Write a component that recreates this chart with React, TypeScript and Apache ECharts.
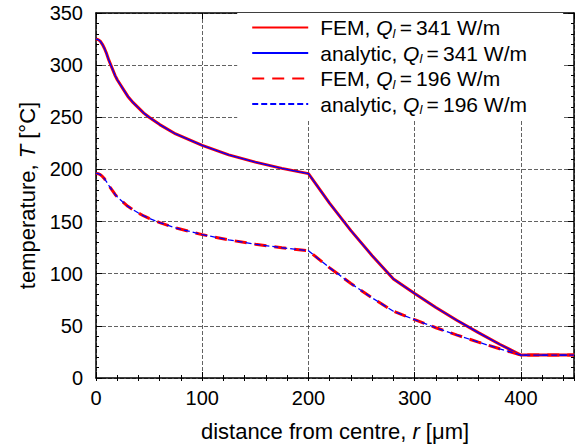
import React, { useEffect, useRef } from 'react';
import * as echarts from 'echarts';

// radial positions [µm]
const radius = [0, 2, 4, 6, 8, 10, 12, 14, 16, 18, 20, 25, 30, 35, 40, 45, 50, 60, 75, 100, 125, 150, 175, 200, 220, 240, 260, 280, 300, 320, 340, 360, 380, 400, 425, 450];

// temperatures [°C], Q_l = 341 W/m
const femHigh = [325, 324.5, 323, 320, 316, 311, 305, 300, 295, 290, 286, 278, 270, 264, 259, 254, 250, 243, 234, 223, 214, 207, 201, 196, 167.4, 141.3, 117.3, 95, 81, 67.6, 55.2, 43.5, 32.4, 22, 22, 22];
const analyticHigh = [325, 324.5, 323, 320, 316, 311, 305, 300, 295, 290, 286, 278, 270, 264, 259, 254, 250, 243, 234, 223, 214, 207, 201, 196, 167.4, 141.3, 117.3, 95, 81, 67.6, 55.2, 43.5, 32.4, 22, 22, 22];

// temperatures [°C], Q_l = 196 W/m
const femLow = [196.2, 195.9, 195, 193.3, 191, 188.1, 184.7, 181.8, 178.9, 176, 173.7, 169.1, 164.6, 161.2, 158.2, 155.4, 153.1, 149, 143.9, 137.5, 132.4, 128.3, 124.9, 122, 105.6, 90.6, 76.8, 64, 55.9, 48.2, 41.1, 34.4, 28, 22, 22, 22];
const analyticLow = [196.2, 195.9, 195, 193.3, 191, 188.1, 184.7, 181.8, 178.9, 176, 173.7, 169.1, 164.6, 161.2, 158.2, 155.4, 153.1, 149, 143.9, 137.5, 132.4, 128.3, 124.9, 122, 105.6, 90.6, 76.8, 64, 55.9, 48.2, 41.1, 34.4, 28, 22, 22, 22];

const seriesNames = ['FEM341', 'analytic341', 'FEM196', 'analytic196'];
const legendLabels: Record<string, string> = {
  FEM341: '{n|FEM, }{q|Q}{s|l}{n|\u2009=\u2009341 W/m}',
  analytic341: '{n|analytic, }{q|Q}{s|l}{n|\u2009=\u2009341 W/m}',
  FEM196: '{n|FEM, }{q|Q}{s|l}{n|\u2009=\u2009196 W/m}',
  analytic196: '{n|analytic, }{q|Q}{s|l}{n|\u2009=\u2009196 W/m}',
};

const FONT = 'Liberation Sans, Arial, Helvetica, sans-serif';

export default function App() {
  const ref = useRef<HTMLDivElement>(null);
  useEffect(() => {
    if (!ref.current) return;
    const chart = echarts.init(ref.current, undefined, { renderer: 'svg' });
    const toPairs = (vals: number[]) => radius.map((r, i) => [r, vals[i]]);
    const gridLine = { show: true, lineStyle: { color: '#3a3a3a', width: 0.8, type: [4, 2] as any } };
    const axisLine = { show: true, onZero: false, lineStyle: { color: '#000', width: 1.5 } };
    const baseX = { type: 'value' as const, min: 0, max: 450, gridIndex: 0 };
    const titleRich = {
      n: { fontSize: 22, fontFamily: FONT, color: '#000' },
      i: { fontSize: 22, fontFamily: FONT, fontStyle: 'italic', color: '#000' },
    };
    const option: any = {
      animation: false,
      backgroundColor: '#fff',
      grid: { left: 96, right: 2, top: 13, bottom: 70, containLabel: false },
      xAxis: [
        {
          ...baseX,
          position: 'bottom',
          interval: 100,
          axisLine,
          axisTick: { inside: true, length: 6, lineStyle: { color: '#000', width: 1 } },
          axisLabel: { showMaxLabel: false, margin: 10, fontSize: 20, color: '#000', fontFamily: FONT },
          splitLine: gridLine,
          name: '{n|distance from centre, }{i|r}{n| [μm]}',
          nameLocation: 'middle',
          nameGap: 42,
          nameTextStyle: { fontFamily: FONT, rich: titleRich },
        },
        {
          ...baseX,
          position: 'bottom',
          interval: 20,
          axisLine: { show: false },
          axisTick: { inside: true, length: 3, lineStyle: { color: '#000', width: 1 } },
          axisLabel: { show: false },
          splitLine: { show: false },
        },
        {
          ...baseX,
          position: 'top',
          interval: 100,
          axisLine,
          axisTick: { inside: true, length: 6, lineStyle: { color: '#000', width: 1 } },
          axisLabel: { show: false },
          splitLine: { show: false },
        },
        {
          ...baseX,
          position: 'top',
          interval: 20,
          axisLine: { show: false },
          axisTick: { inside: true, length: 3, lineStyle: { color: '#000', width: 1 } },
          axisLabel: { show: false },
          splitLine: { show: false },
        },
      ],
      yAxis: [
        {
          type: 'value',
          min: 0,
          max: 350,
          interval: 50,
          position: 'left',
          axisLine,
          axisTick: { inside: true, length: 6, lineStyle: { color: '#000', width: 1 } },
          minorTick: { show: true, splitNumber: 5, length: 3, lineStyle: { color: '#000', width: 1 } },
          axisLabel: { margin: 13, fontSize: 20, color: '#000', fontFamily: FONT },
          splitLine: gridLine,
          name: '{n|temperature, }{i|T}{n| [°C]}',
          nameLocation: 'middle',
          nameGap: 56,
          nameRotate: 90,
          nameTextStyle: { fontFamily: FONT, rich: titleRich },
        },
        {
          type: 'value',
          min: 0,
          max: 350,
          interval: 50,
          position: 'right',
          axisLine,
          axisTick: { inside: true, length: 6, lineStyle: { color: '#000', width: 1 } },
          minorTick: { show: true, splitNumber: 5, length: 3, lineStyle: { color: '#000', width: 1 } },
          axisLabel: { show: false },
          splitLine: { show: false },
        },
      ],
      legend: {
        orient: 'vertical',
        right: 13,
        top: 13,
        backgroundColor: '#fff',
        padding: [4, 36, 4, 14],
        itemGap: 3,
        itemWidth: 56,
        itemHeight: 14,
        itemStyle: { opacity: 0 },
        data: seriesNames,
        formatter: (name: string) => legendLabels[name],
        textStyle: {
          fontFamily: FONT,
          color: '#000',
          padding: [0, 0, 0, 7],
          rich: {
            n: { fontSize: 21, fontFamily: FONT, color: '#000', lineHeight: 24 },
            q: { fontSize: 21, fontFamily: FONT, fontStyle: 'italic', color: '#000', lineHeight: 24 },
            s: { fontSize: 13, fontFamily: FONT, fontStyle: 'italic', color: '#000', lineHeight: 13, verticalAlign: 'bottom' },
          },
        },
      },
      series: [
        {
          name: 'FEM341', type: 'line', symbol: 'none', showSymbol: false,
          data: toPairs(femHigh),
          lineStyle: { color: '#ff0000', width: 3 }, itemStyle: { color: '#ff0000' },
        },
        {
          name: 'analytic341', type: 'line', symbol: 'none', showSymbol: false,
          data: toPairs(analyticHigh),
          lineStyle: { color: '#0000ff', width: 1.3 }, itemStyle: { color: '#0000ff' },
        },
        {
          name: 'FEM196', type: 'line', symbol: 'none', showSymbol: false,
          data: toPairs(femLow),
          lineStyle: { color: '#ff0000', width: 3, type: [12, 8] }, itemStyle: { color: '#ff0000' },
        },
        {
          name: 'analytic196', type: 'line', symbol: 'none', showSymbol: false,
          data: toPairs(analyticLow),
          lineStyle: { color: '#0000ff', width: 1.3, type: [6, 3] }, itemStyle: { color: '#0000ff' },
        },
      ],
    };
    chart.setOption(option);
    return () => chart.dispose();
  }, []);
  return <div ref={ref} style={{ position: 'fixed', left: 0, top: 0, width: 576, height: 448 }} />;
}
